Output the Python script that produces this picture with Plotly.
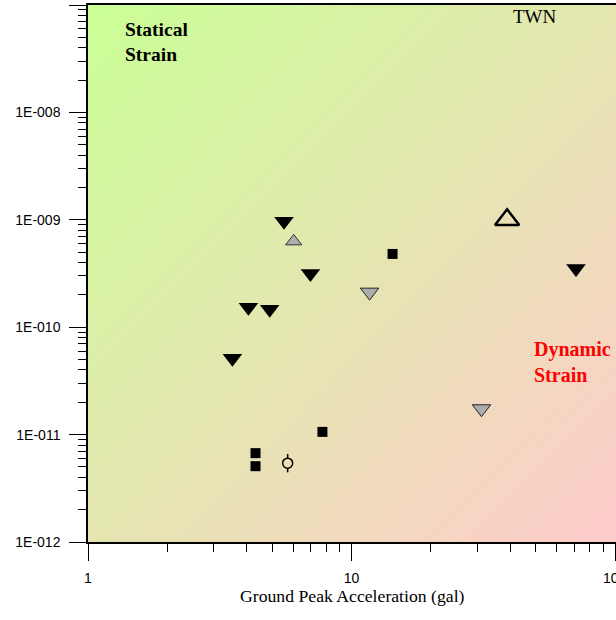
import numpy as np
import plotly.graph_objects as go

# ---- data ----
black_down_x = [5.54, 6.98, 4.06, 4.89, 3.53, 71.0]
black_down_y = [9.7e-10, 3.16e-10, 1.53e-10, 1.47e-10, 5.13e-11, 3.52e-10]
gray_down_x = [11.7, 31.1]
gray_down_y = [2.12e-10, 1.74e-11]
gray_up_x = [6.03]
gray_up_y = [6.3e-10]
open_up_x = [38.9]
open_up_y = [1.0e-9]
square_x = [14.3, 7.75, 4.32, 4.32]
square_y = [4.81e-10, 1.06e-11, 6.72e-12, 5.08e-12]
circle_x = [5.72]
circle_y = [5.42e-12]
circle_err_plus = [1.18e-12]
circle_err_minus = [0.97e-12]

x_tickvals = [1, 10, 100]
x_ticktext = ["1", "10", "100"]
y_tickvals = [1e-12, 1e-11, 1e-10, 1e-9, 1e-8, 1e-7]
y_ticktext = ["1E-012", "1E-011", "1E-010", "1E-009", "1E-008", "1E-007"]

# ---- background gradient (green top-left -> pink bottom-right) ----
N = 80
gx = np.logspace(0, 2.01, N)
gy = np.logspace(-12, -7, N)
gz = [[(j / (N - 1) + (1 - i / (N - 1))) / 2 for j in range(N)] for i in range(N)]

fig = go.Figure()
fig.add_trace(go.Heatmap(
    x=gx, y=gy, z=gz, zsmooth="best", showscale=False, hoverinfo="skip",
    colorscale=[[0, "rgb(202,255,150)"], [1, "rgb(255,204,204)"]],
    zmin=0, zmax=1,
))

fig.add_trace(go.Scatter(
    x=circle_x, y=circle_y, mode="markers",
    error_y=dict(type="data", array=circle_err_plus, arrayminus=circle_err_minus,
                 symmetric=False, width=0, thickness=1.5, color="black"),
    marker=dict(symbol="circle", size=10, color="rgb(235,224,185)",
                line=dict(color="black", width=1.5)),
))
fig.add_trace(go.Scatter(
    x=square_x, y=square_y, mode="markers",
    marker=dict(symbol="square", size=10, color="black", line=dict(width=0)),
))
fig.add_trace(go.Scatter(
    x=black_down_x, y=black_down_y, mode="markers",
    marker=dict(symbol="triangle-down", size=17, color="black", line=dict(width=0)),
))
fig.add_trace(go.Scatter(
    x=gray_down_x, y=gray_down_y, mode="markers",
    marker=dict(symbol="triangle-down", size=16, color="#acacac",
                line=dict(color="#222222", width=1)),
))
fig.add_trace(go.Scatter(
    x=gray_up_x, y=gray_up_y, mode="markers",
    marker=dict(symbol="triangle-up", size=14, color="#acacac",
                line=dict(color="#333333", width=1)),
))
fig.add_trace(go.Scatter(
    x=open_up_x, y=open_up_y, mode="markers",
    marker=dict(symbol="triangle-up-open", size=21, color="black",
                line=dict(color="black", width=2.5)),
))

tickfont = dict(family="Liberation Sans, Arial, sans-serif", size=14, color="black")

fig.update_layout(
    width=616, height=620,
    margin=dict(l=88, r=0, t=5, b=78),
    paper_bgcolor="white", plot_bgcolor="white",
    showlegend=False,
    xaxis=dict(
        type="log", range=[0, 2.003], tickvals=x_tickvals, ticktext=x_ticktext,
        ticks="outside", ticklen=17, tickwidth=1, tickcolor="black",
        showline=True, linecolor="black", linewidth=1.5, mirror=True,
        showgrid=False, zeroline=False, tickfont=tickfont, ticklabelstandoff=5,
        minor=dict(ticks="outside", ticklen=8, tickwidth=1, tickcolor="black",
                   dtick="D1", showgrid=False),
    ),
    yaxis=dict(
        type="log", range=[-12, -7], tickvals=y_tickvals, ticktext=y_ticktext,
        ticks="outside", ticklen=17, tickwidth=1, tickcolor="black",
        showline=True, linecolor="black", linewidth=1.5, mirror=False,
        showgrid=False, zeroline=False, tickfont=tickfont, ticklabelstandoff=6,
        minor=dict(ticks="outside", ticklen=8, tickwidth=1, tickcolor="black",
                   dtick="D1", showgrid=False),
    ),
    annotations=[
        dict(text="<b>Statical<br>Strain</b>", xref="paper", yref="paper",
             x=0.066, y=0.931, xanchor="left", yanchor="middle", align="left",
             showarrow=False,
             font=dict(family="Liberation Serif, Times New Roman, serif", size=19.5, color="black")),
        dict(text="TWN", xref="paper", yref="paper",
             x=0.8466, y=0.9786, xanchor="center", yanchor="middle",
             showarrow=False,
             font=dict(family="Liberation Serif, Times New Roman, serif", size=19, color="black")),
        dict(text="<b>Dynamic<br>Strain</b>", xref="paper", yref="paper",
             x=0.840, y=0.336, xanchor="left", yanchor="middle", align="left",
             showarrow=False,
             font=dict(family="Liberation Serif, Times New Roman, serif", size=20, color="red")),
        dict(text="Ground Peak Acceleration (gal)", xref="paper", yref="paper",
             x=0.5, y=-0.1, xanchor="center", yanchor="middle",
             showarrow=False,
             font=dict(family="Liberation Serif, Times New Roman, serif", size=17.7, color="black")),
        dict(text=x_ticktext[2], xref="x", yref="paper",
             x=np.log10(x_tickvals[2]), y=-0.067, xanchor="center", yanchor="middle",
             showarrow=False, font=tickfont),
    ],
)

fig.write_html("out.html")
